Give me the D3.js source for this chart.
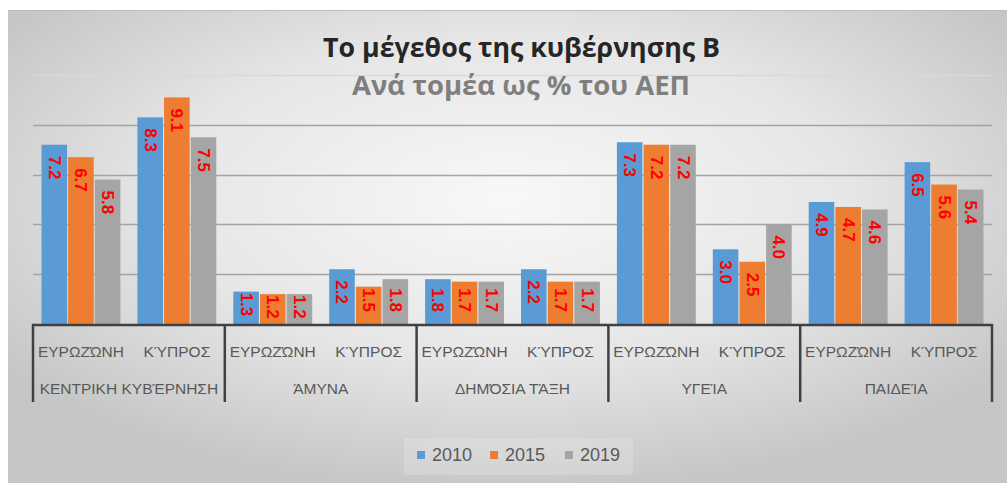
<!DOCTYPE html>
<html>
<head>
<meta charset="utf-8">
<script src="https://cdn.jsdelivr.net/npm/d3@7"></script>
<style>
  html, body { margin: 0; padding: 0; background: #ffffff; }
  svg { display: block; }
</style>
</head>
<body>
<svg id="chart" width="1007" height="483"></svg>
<script>
// ---- data ----
const groups = ["ΚΕΝΤΡΙΚΗ ΚΥΒΈΡΝΗΣΗ", "ΆΜΥΝΑ", "ΔΗΜΌΣΙΑ ΤΆΞΗ", "ΥΓΕΊΑ", "ΠΑΙΔΕΊΑ"];
const subs = ["ΕΥΡΩΖΏΝΗ", "ΚΎΠΡΟΣ"];
const series = ["2010", "2015", "2019"];
const v2010 = [7.2, 8.3, 1.3, 2.2, 1.8, 2.2, 7.3, 3.0, 4.9, 6.5];
const v2015 = [6.7, 9.1, 1.2, 1.5, 1.7, 1.7, 7.2, 2.5, 4.7, 5.6];
const v2019 = [5.8, 7.5, 1.2, 1.8, 1.7, 1.7, 7.2, 4.0, 4.6, 5.4];
const yTicks = [2, 4, 6, 8, 10];
const titleText = "Το μέγεθος της κυβέρνησης Β";
const subtitleText = "Ανά τομέα ως % του ΑΕΠ";

const seriesValues = [v2010, v2015, v2019];
const colors = ["#5b9bd5", "#ed7d31", "#a5a5a5"];

const svg = d3.select("#chart");
const W = 1007, H = 483;

// ---- background panel with radial gradient ----
const defs = svg.append("defs");
const rg = defs.append("radialGradient").attr("id", "bg")
  .attr("cx", "50%").attr("cy", "40%").attr("r", "62%");
rg.append("stop").attr("offset", "0%").attr("stop-color", "#f8f8f8");
rg.append("stop").attr("offset", "55%").attr("stop-color", "#e6e6e6");
rg.append("stop").attr("offset", "100%").attr("stop-color", "#c6c6c6");

svg.append("rect").attr("x", 8).attr("y", 10).attr("width", W - 8).attr("height", H - 10)
  .attr("fill", "url(#bg)");
svg.append("line").attr("x1", 8).attr("x2", W).attr("y1", 10.5).attr("y2", 10.5)
  .attr("stroke", "#bdbdbd").attr("stroke-width", 1);

// ---- scales ----
const left = 33, right = 992, base = 324, topY = 75;
const y = d3.scaleLinear().domain([0, 10]).range([base, topY]);
const xg = d3.scaleBand().domain(groups).range([left, right]).padding(0);
const xs = d3.scaleBand().domain(subs).range([0, xg.bandwidth()]).padding(0);
const xb = d3.scaleBand().domain(series).range([8.5, xs.bandwidth() - 8.5]).paddingInner(0.04);

// ---- gridlines ----
svg.append("g").selectAll("line").data(yTicks).join("line")
  .attr("x1", left).attr("x2", right)
  .attr("y1", d => Math.round(y(d)) + 0.5).attr("y2", d => Math.round(y(d)) + 0.5)
  .attr("stroke", d => d === 10 ? "#d9d9d9" : "#a3a3a3")
  .attr("stroke-width", 1.5);

// ---- bars ----
const items = [];
groups.forEach((g, gi) => {
  subs.forEach((s, si) => {
    const idx = gi * subs.length + si;
    series.forEach((ser, k) => {
      items.push({ g, s, ser, k, v: seriesValues[k][idx] });
    });
  });
});

const barX = d => xg(d.g) + xs(d.s) + xb(d.ser);
svg.append("g").selectAll("rect").data(items).join("rect")
  .attr("x", barX)
  .attr("y", d => y(d.v))
  .attr("width", xb.bandwidth())
  .attr("height", d => base - y(d.v))
  .attr("fill", d => colors[d.k]);

// ---- data labels (rotated, inside end) ----
const lbl = svg.append("g").selectAll("text").data(items).join("text")
  .text(d => d.v.toFixed(1))
  .attr("font-family", "'Liberation Sans', Arial, sans-serif")
  .attr("font-weight", "bold")
  .attr("font-size", 17)
  .attr("fill", "#ff0000")
  .attr("text-anchor", "start")
  .attr("dominant-baseline", "central");
lbl.each(function(d) {
  const len = this.getComputedTextLength();
  const cx = barX(d) + xb.bandwidth() / 2;
  const topPx = y(d.v);
  let start = topPx + 11;
  if (start + len > base - 12) start = Math.max(topPx + 1, base - 12 - len);
  d3.select(this).attr("transform", `translate(${cx},${start}) rotate(90)`);
});

// ---- axis lines ----
const axisColor = "#404040";
svg.append("line").attr("x1", left - 1).attr("x2", right + 1).attr("y1", base + 1).attr("y2", base + 1)
  .attr("stroke", axisColor).attr("stroke-width", 2.5);
const bounds = groups.map(g => xg(g)).concat([right]);
svg.append("g").selectAll("line").data(bounds).join("line")
  .attr("x1", d => d).attr("x2", d => d)
  .attr("y1", base).attr("y2", 402)
  .attr("stroke", axisColor).attr("stroke-width", 2.5);

// ---- category labels ----
const labelFont = "'Liberation Sans', Arial, sans-serif";
const subItems = [];
groups.forEach(g => subs.forEach(s => subItems.push({ g, s })));
svg.append("g").selectAll("text").data(subItems).join("text")
  .attr("x", d => xg(d.g) + xs(d.s) + xs.bandwidth() / 2)
  .attr("y", 351)
  .attr("text-anchor", "middle").attr("dominant-baseline", "central")
  .attr("font-family", labelFont).attr("font-size", 15.5).attr("fill", "#595959")
  .text(d => d.s);
svg.append("g").selectAll("text").data(groups).join("text")
  .attr("x", d => xg(d) + xg.bandwidth() / 2)
  .attr("y", 388)
  .attr("text-anchor", "middle").attr("dominant-baseline", "central")
  .attr("font-family", labelFont).attr("font-size", 15.5).attr("fill", "#595959")
  .text(d => d);

// ---- title ----
svg.append("text").attr("x", 521.5).attr("y", 57)
  .attr("text-anchor", "middle")
  .attr("font-family", "'Open Sans', 'Liberation Sans', sans-serif")
  .attr("font-weight", "bold").attr("font-size", 27).attr("fill", "#262626")
  .attr("textLength", 397).attr("lengthAdjust", "spacingAndGlyphs")
  .text(titleText);
svg.append("text").attr("x", 521).attr("y", 95)
  .attr("text-anchor", "middle")
  .attr("font-family", "'Open Sans', 'Liberation Sans', sans-serif")
  .attr("font-weight", "bold").attr("font-size", 26).attr("fill", "#7f7f7f")
  .attr("textLength", 338).attr("lengthAdjust", "spacingAndGlyphs")
  .text(subtitleText);

// ---- legend ----
svg.append("rect").attr("x", 404).attr("y", 438).attr("width", 229).attr("height", 37)
  .attr("fill", "#ffffff").attr("opacity", 0.18);
const legX = [417, 490, 565];
const lg = svg.append("g").selectAll("g").data(series).join("g")
  .attr("transform", (d, i) => `translate(${legX[i]},455)`);
lg.append("rect").attr("x", 0).attr("y", -4).attr("width", 8).attr("height", 8)
  .attr("fill", (d, i) => colors[i]);
lg.append("text").attr("x", 15).attr("y", 0)
  .attr("dominant-baseline", "central")
  .attr("font-family", labelFont).attr("font-size", 18).attr("fill", "#595959")
  .text(d => d);
</script>
</body>
</html>
